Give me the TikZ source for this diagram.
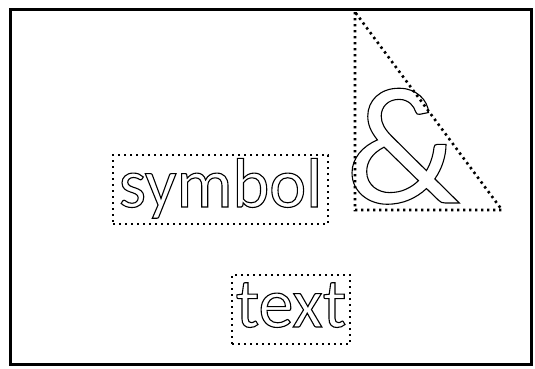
\documentclass[tikz,border=0pt]{standalone}
\usepackage{fontspec}
\setmainfont{Carlito}
\newcommand\outlinetext[1]{\special{pdf:code 1 Tr 1.1 w}#1\special{pdf:code 0 Tr}}
\tikzset{
  dotline/.style={line width=2.6pt, dash pattern=on 2.4pt off 3.6pt},
  labelbox/.style={draw, dotline, inner sep=2pt, outer sep=0pt, font=\fontsize{70}{70}\selectfont, text height=50pt, text depth=15pt},
}
\begin{document}
\begin{tikzpicture}[x=1pt,y=-1pt]
\useasboundingbox (0,0) rectangle (535,368);
\draw[line width=3pt] (10,9.5) rectangle (531,364);
\node[labelbox, minimum width=215pt, anchor=north west] (sym) at (113,155) {\outlinetext{symbol}};
\node[labelbox, minimum width=118pt, anchor=north west] (txt) at (232,275) {\outlinetext{text}};
\coordinate (tA) at (355,12);
\coordinate (tB) at (355,210);
\coordinate (tC) at (502,210);
\draw[dotline] (tA) -- (tB) -- (tC) -- cycle;
\node[anchor=base west, inner sep=0pt, font=\fontsize{168}{168}\selectfont] (amp) at (345,203) {\outlinetext{\&}};
\end{tikzpicture}
\end{document}
